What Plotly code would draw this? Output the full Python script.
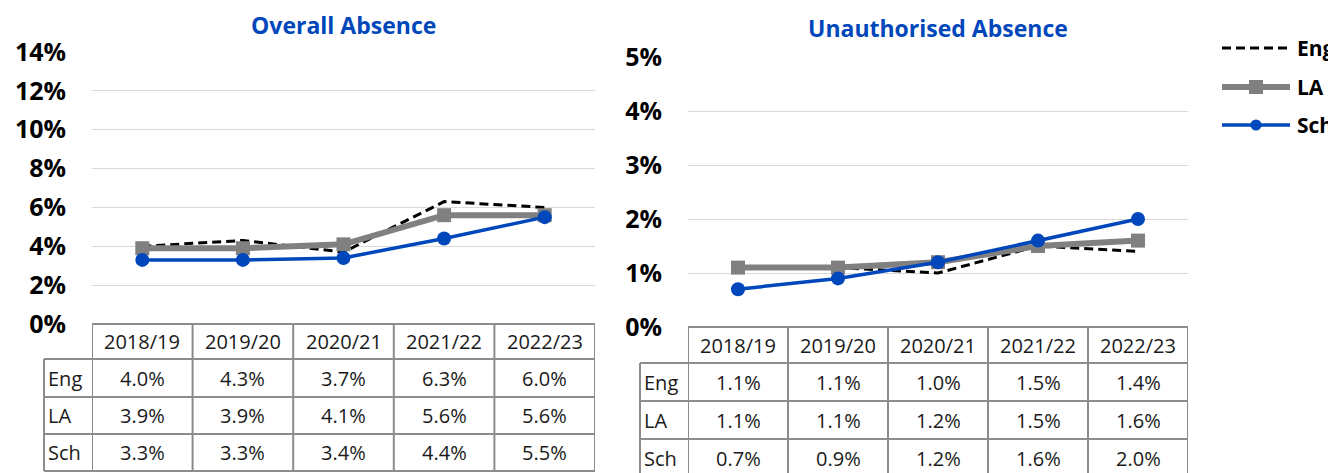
import plotly.graph_objects as go

# ---------------- data ----------------
categories = ["2018/19", "2019/20", "2020/21", "2021/22", "2022/23"]
series_names = ["Eng", "LA", "Sch"]

overall_eng = [4.0, 4.3, 3.7, 6.3, 6.0]
overall_la = [3.9, 3.9, 4.1, 5.6, 5.6]
overall_sch = [3.3, 3.3, 3.4, 4.4, 5.5]

unauth_eng = [1.1, 1.1, 1.0, 1.5, 1.4]
unauth_la = [1.1, 1.1, 1.2, 1.5, 1.6]
unauth_sch = [0.7, 0.9, 1.2, 1.6, 2.0]

titles = ["Overall Absence", "Unauthorised Absence"]
overall_ticks = [0, 2, 4, 6, 8, 10, 12, 14]
unauth_ticks = [0, 1, 2, 3, 4, 5]

# ---------------- styling ----------------
W, H = 1336, 473
OFF = 8  # page body margin
BLUE = "#0047BB"
GRAY = "#808080"
BLACK = "#000000"
GRID = "#D9D9D9"
BORDER = "#8C8C8C"
FONT = "Open Sans"

styles = {
    "Eng": dict(line=dict(color=BLACK, width=3, dash="9px,5px"), mode="lines"),
    "LA": dict(line=dict(color=GRAY, width=6), mode="lines+markers",
               marker=dict(symbol="square", size=14, color=GRAY)),
    "Sch": dict(line=dict(color=BLUE, width=3.5), mode="lines+markers",
                marker=dict(symbol="circle", size=14, color=BLUE)),
}


def px(x):
    return (x - OFF) / W


def py(y):
    return 1 - (y - OFF) / H


panels = [
    dict(xa="x", ya="y", xname="xaxis", yname="yaxis",
         series=[overall_eng, overall_la, overall_sch], ticks=overall_ticks,
         x0=92, x1=595, ytop=52, ybot=324, labx=44,
         rows=[324, 359, 397, 434, 471], title_y=25),
    dict(xa="x2", ya="y2", xname="xaxis2", yname="yaxis2",
         series=[unauth_eng, unauth_la, unauth_sch], ticks=unauth_ticks,
         x0=688, x1=1188, ytop=57, ybot=327, labx=640,
         rows=[327, 363, 401, 439, 477], title_y=28),
]

fig = go.Figure()
shapes = []
annotations = []
layout = {}

for pi, p in enumerate(panels):
    for name, vals in zip(series_names, p["series"]):
        fig.add_trace(go.Scatter(x=categories, y=vals, name=name, xaxis=p["xa"], yaxis=p["ya"],
                                 showlegend=False, hoverinfo="skip", **styles[name]))
    layout[p["xname"]] = dict(domain=[px(p["x0"]), px(p["x1"])], type="category",
                              range=[-0.5, len(categories) - 0.5], showticklabels=False,
                              showgrid=False, zeroline=False, showline=False, automargin=False,
                              anchor=p["ya"])
    layout[p["yname"]] = dict(domain=[py(p["ybot"]), py(p["ytop"])],
                              range=[p["ticks"][0], p["ticks"][-1]], tickvals=p["ticks"],
                              ticktext=[f"{t}%" for t in p["ticks"]],
                              showgrid=True, gridcolor=GRID, gridwidth=1,
                              zeroline=False, showline=False, ticks="", automargin=False,
                              ticklabelstandoff=25,
                              tickfont=dict(family=FONT, size=25, color=BLACK, weight="bold"),
                              anchor=p["xa"])
    # title
    annotations.append(dict(text=titles[pi], xref="paper", yref="paper",
                            x=(px(p["x0"]) + px(p["x1"])) / 2, y=py(p["title_y"]),
                            xanchor="center", yanchor="middle", showarrow=False, borderpad=0,
                            font=dict(family=FONT, size=23, color=BLUE, weight="bold")))
    rows = p["rows"]
    # table horizontal lines
    shapes.append(dict(type="line", xref="paper", yref="paper",
                       x0=px(p["x0"]), x1=px(p["x1"]), y0=py(rows[0]), y1=py(rows[0]),
                       line=dict(color=BORDER, width=2)))
    for r in rows[1:]:
        shapes.append(dict(type="line", xref="paper", yref="paper",
                           x0=px(p["labx"]), x1=px(p["x1"]), y0=py(r), y1=py(r),
                           line=dict(color=BORDER, width=2)))
    # column lines
    for i in range(len(categories) + 1):
        shapes.append(dict(type="line", xref=p["xa"], yref="paper",
                           x0=i - 0.5, x1=i - 0.5, y0=py(rows[0]), y1=py(rows[-1]),
                           line=dict(color=BORDER, width=2)))
    shapes.append(dict(type="line", xref="paper", yref="paper",
                       x0=px(p["labx"]), x1=px(p["labx"]), y0=py(rows[1]), y1=py(rows[-1]),
                       line=dict(color=BORDER, width=2)))
    tfont = dict(family=FONT, size=20, color="#1A1A1A")
    # header
    for c in categories:
        annotations.append(dict(text=c, xref=p["xa"], yref="paper", x=c,
                                y=py((rows[0] + rows[1]) / 2), showarrow=False,
                                xanchor="center", yanchor="middle", font=tfont))
    # body
    for ri, (name, vals) in enumerate(zip(series_names, p["series"])):
        yc = py((rows[ri + 1] + rows[ri + 2]) / 2)
        annotations.append(dict(text=name, xref="paper", yref="paper", x=px(p["labx"] + 2),
                                y=yc, showarrow=False, xanchor="left", yanchor="middle",
                                font=tfont))
        for c, v in zip(categories, vals):
            annotations.append(dict(text=f"{v:.1f}%", xref=p["xa"], yref="paper", x=c, y=yc,
                                    showarrow=False, xanchor="center", yanchor="middle",
                                    font=tfont))

# ---------------- manual legend ----------------
leg_y = [48, 87, 125]
lx0, lx1, ltext = 1222, 1290, 1295
for name, yy in zip(series_names, leg_y):
    st = styles[name]
    ln = st["line"]
    shapes.append(dict(type="line", xref="paper", yref="paper", x0=px(lx0), x1=px(lx1),
                       y0=py(yy), y1=py(yy),
                       line=dict(color=ln["color"], width=ln["width"], dash=ln.get("dash", "solid"))))
    if "marker" in st:
        cx = (lx0 + lx1) / 2
        r = 7 if st["marker"]["symbol"] == "square" else 5.5
        shapes.append(dict(type="rect" if st["marker"]["symbol"] == "square" else "circle",
                           xref="paper", yref="paper", x0=px(cx - r), x1=px(cx + r),
                           y0=py(yy + r), y1=py(yy - r), fillcolor=st["marker"]["color"],
                           line=dict(width=0)))
    annotations.append(dict(text=name, xref="paper", yref="paper", x=px(ltext), y=py(yy),
                            xanchor="left", yanchor="middle", showarrow=False,
                            font=dict(family=FONT, size=21, color=BLACK, weight="bold")))

fig.update_layout(width=W, height=H, margin=dict(l=0, r=0, t=0, b=0, pad=0, autoexpand=False),
                  paper_bgcolor="white", plot_bgcolor="white", showlegend=False,
                  shapes=shapes, annotations=annotations, **layout)

fig.write_html("out.html")
